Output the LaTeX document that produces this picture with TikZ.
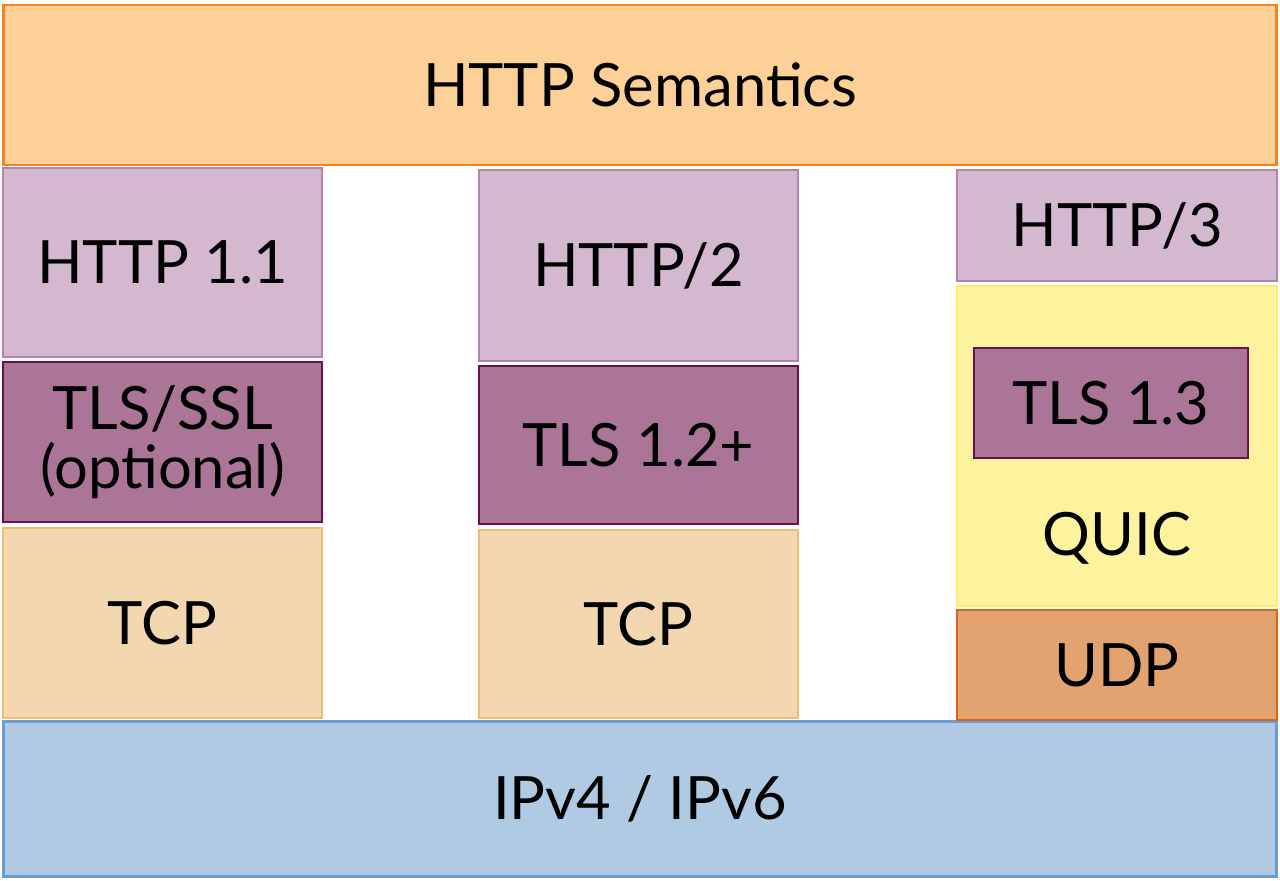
\documentclass[tikz,border=0pt]{standalone}
\usepackage{fontspec}
\setmainfont{Lato}
\definecolor{semfill}{HTML}{FCD096}
\definecolor{semdraw}{HTML}{F5841F}
\definecolor{httpfill}{HTML}{D3B8D0}
\definecolor{httpdraw}{HTML}{B085AD}
\definecolor{tlsfill}{HTML}{AB7597}
\definecolor{tlsdraw}{HTML}{6B0F4F}
\definecolor{tcpfill}{HTML}{F3D7B0}
\definecolor{tcpdraw}{HTML}{EEBB70}
\definecolor{quicfill}{HTML}{FDF39E}
\definecolor{quicdraw}{HTML}{FDEB6E}
\definecolor{udpfill}{HTML}{E2A370}
\definecolor{udpdraw}{HTML}{D5661A}
\definecolor{ipfill}{HTML}{B0CAE4}
\definecolor{ipdraw}{HTML}{6C9DD0}

\begin{document}
\begin{tikzpicture}[x=0.02cm, y=-0.02cm,
    layer/.style={rectangle, draw, line width=1.6pt, inner sep=0pt,
        align=center, font=\fontsize{34}{38}\selectfont},
    semantics/.style={layer, fill=semfill, draw=semdraw},
    http/.style={layer, fill=httpfill, draw=httpdraw},
    tls/.style={layer, fill=tlsfill, draw=tlsdraw},
    tcp/.style={layer, fill=tcpfill, draw=tcpdraw},
    quic/.style={layer, fill=quicfill, draw=quicdraw},
    udp/.style={layer, fill=udpfill, draw=udpdraw},
    ip/.style={layer, fill=ipfill, draw=ipdraw}]
    \useasboundingbox (0,0) rectangle (1280,880);
    % top and bottom
    \node[semantics, minimum width=25.48cm, minimum height=3.2cm] (sem) at (640,85) {HTTP Semantics};
    \node[ip, minimum width=25.48cm, minimum height=3.1cm] (ip) at (640,799) {IPv4 / IPv6};
    % HTTP 1.1 stack
    \node[http, minimum width=6.38cm, minimum height=3.78cm] (h1) at (162.5,262.5) {HTTP 1.1};
    \node[tls, minimum width=6.38cm, minimum height=3.2cm] (tls1) at (162.5,442) {TLS/SSL\\[-4pt](optional)};
    \node[tcp, minimum width=6.38cm, minimum height=3.8cm] (tcp1) at (162.5,623) {TCP};
    % HTTP/2 stack
    \node[http, minimum width=6.38cm, minimum height=3.82cm] (h2) at (638.5,265.5) {HTTP/2};
    \node[tls, minimum width=6.38cm, minimum height=3.16cm] (tls2) at (638.5,445) {TLS 1.2+};
    \node[tcp, minimum width=6.38cm, minimum height=3.76cm] (tcp2) at (638.5,624) {TCP};
    % HTTP/3 stack
    \node[http, minimum width=6.4cm, minimum height=2.22cm] (h3) at (1117,225.5) {HTTP/3};
    \node[quic, minimum width=6.4cm, minimum height=6.4cm] (quic) at (1117,446) {};
    \node[font=\fontsize{34}{38}\selectfont] (quiclabel) at (1117,538) {QUIC};
    \node[tls, minimum width=5.48cm, minimum height=2.2cm] (tls3) at (1111,403) {TLS 1.3};
    \node[udp, minimum width=6.4cm, minimum height=2.2cm] (udp) at (1117,665) {UDP};
\end{tikzpicture}
\end{document}
